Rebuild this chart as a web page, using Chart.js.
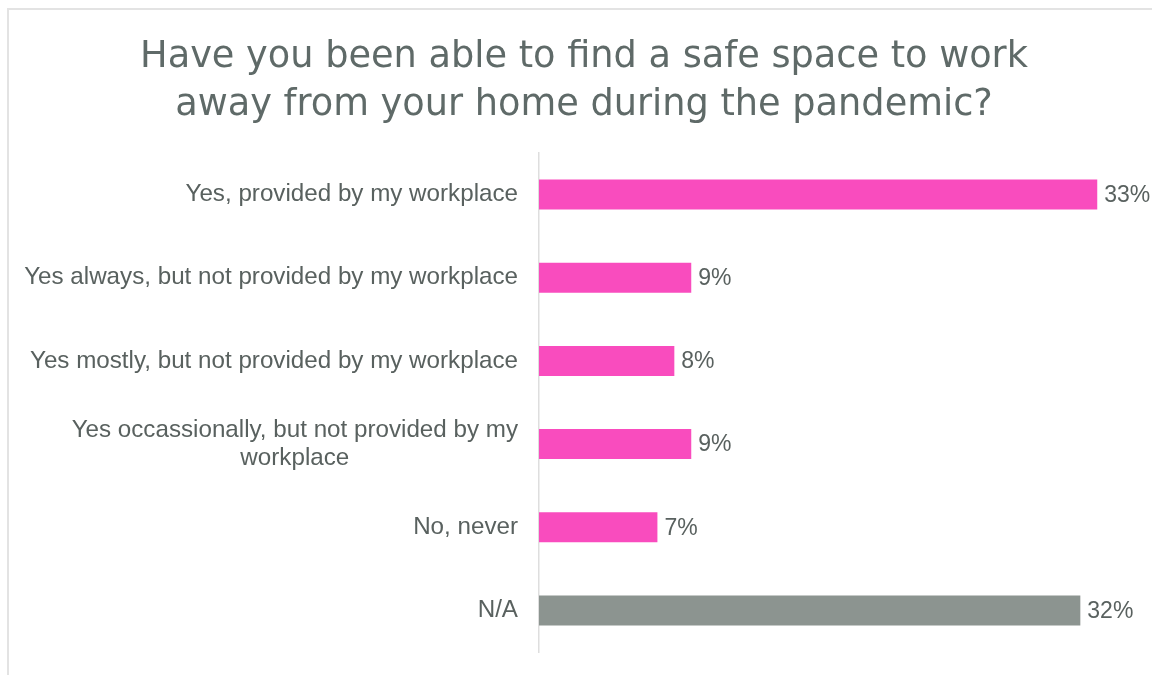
<!DOCTYPE html>
<html>
<head>
<meta charset="utf-8">
<script src="https://cdn.jsdelivr.net/npm/chart.js@4/dist/chart.umd.min.js"></script>
<style>
  html, body { margin: 0; padding: 0; background: #ffffff; }
  #wrap { width: 1152px; height: 675px; position: relative; }
</style>
</head>
<body>
<div id="wrap"><canvas id="chart" width="1152" height="675"></canvas></div>
<script>
// Survey answers and their shares (%)
const categories = [
  ["Yes, provided by my workplace"],
  ["Yes always, but not provided by my workplace"],
  ["Yes mostly, but not provided by my workplace"],
  ["Yes occassionally, but not provided by my", "workplace"],
  ["No, never"],
  ["N/A"]
];
const shares = [33, 9, 8, 9, 7, 32];
const barColors = ["#F94CBE", "#F94CBE", "#F94CBE", "#F94CBE", "#F94CBE", "#8C9490"];
const titleLines = [
  "Have you been able to find a safe space to work",
  "away from your home during the pandemic?"
];

const textColor = "#59615f";
const labelFont = "24.2px 'Liberation Sans', Arial, sans-serif";

// Frame, title, category labels and value labels
const decorations = {
  id: "decorations",
  beforeDraw(chart) {
    const ctx = chart.ctx;
    ctx.save();
    ctx.fillStyle = "#ffffff";
    ctx.fillRect(0, 0, chart.width, chart.height);
    ctx.strokeStyle = "#e3e3e3";
    ctx.lineWidth = 2;
    ctx.strokeRect(8, 9, chart.width + 20, chart.height + 20);
    ctx.restore();
  },
  afterDraw(chart) {
    const ctx = chart.ctx;
    const yScale = chart.scales.y;
    const xScale = chart.scales.x;
    ctx.save();
    // title, sized so the first line spans the header width
    ctx.fillStyle = "#5f6a68";
    ctx.textAlign = "center";
    ctx.textBaseline = "alphabetic";
    let size = 36;
    ctx.font = "400 " + size + "px 'DejaVu Sans', sans-serif";
    const w0 = ctx.measureText(titleLines[0]).width;
    size = Math.min(38, size * 887 / w0);
    ctx.font = "400 " + size.toFixed(1) + "px 'DejaVu Sans', sans-serif";
    ctx.fillText(titleLines[0], 584, 67);
    ctx.fillText(titleLines[1], 584, 115);

    // category labels, right-aligned block, lines centred within the block
    ctx.font = labelFont;
    ctx.fillStyle = textColor;
    ctx.textBaseline = "middle";
    const lineH = 28;
    categories.forEach((lines, i) => {
      const cy = yScale.getPixelForValue(i);
      const widths = lines.map(l => ctx.measureText(l).width);
      const w = Math.max(...widths);
      const right = xScale.left - 21;
      const cx = right - w / 2;
      ctx.textAlign = "center";
      lines.forEach((l, j) => {
        const y = cy + (j - (lines.length - 1) / 2) * lineH;
        ctx.fillText(l, cx, y);
      });
    });

    // value labels
    ctx.textAlign = "left";
    ctx.font = "23px 'Liberation Sans', Arial, sans-serif";
    const meta = chart.getDatasetMeta(0);
    meta.data.forEach((bar, i) => {
      ctx.fillText(shares[i] + "%", bar.x + 7, bar.y + 1);
    });
    ctx.restore();
  }
};

new Chart(document.getElementById("chart"), {
  type: "bar",
  data: {
    labels: categories,
    datasets: [{
      data: shares,
      backgroundColor: barColors,
      borderWidth: 0,
      categoryPercentage: 1,
      barPercentage: 0.36
    }]
  },
  options: {
    indexAxis: "y",
    responsive: false,
    animation: false,
    layout: { padding: { top: 153, bottom: 23, left: 0, right: 4 } },
    plugins: {
      legend: { display: false },
      tooltip: { enabled: false },
      title: { display: false }
    },
    scales: {
      x: {
        display: false,
        min: 0,
        max: 36
      },
      y: {
        afterFit(scale) { scale.width = 539; },
        grid: { display: false },
        border: { display: true, color: "#dedede", width: 1.5 },
        ticks: { display: false }
      }
    }
  },
  plugins: [decorations]
});
</script>
</body>
</html>
